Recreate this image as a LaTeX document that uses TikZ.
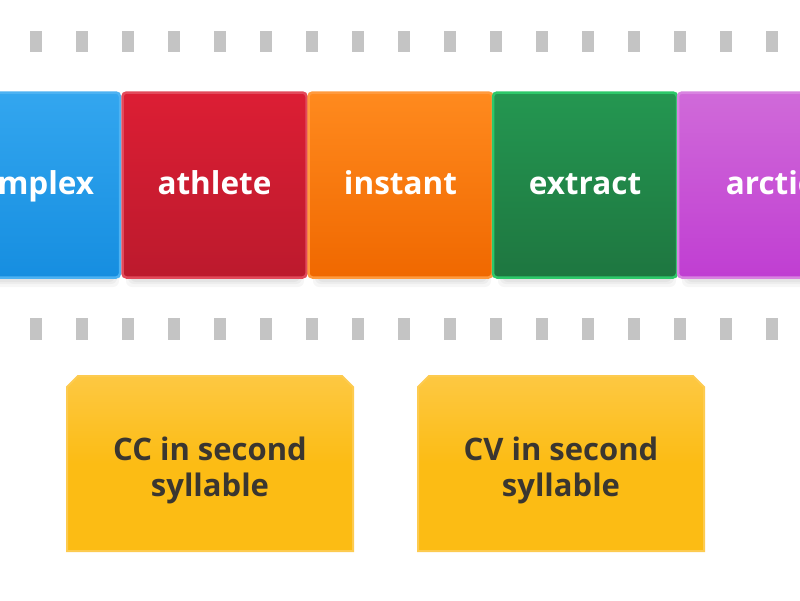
\documentclass[tikz,border=0pt]{standalone}
\usepackage{fontspec}
\setmainfont{Open Sans}
\definecolor{dashc}{HTML}{C4C4C4}
\definecolor{bluet}{HTML}{33A6EF}\definecolor{blueb}{HTML}{168EE0}\definecolor{bluee}{HTML}{4DB2F2}
\definecolor{redt}{HTML}{DC1E34}\definecolor{redb}{HTML}{BC1A2D}\definecolor{rede}{HTML}{E24A5B}
\definecolor{oranget}{HTML}{FF8A1E}\definecolor{orangeb}{HTML}{F06800}\definecolor{orangee}{HTML}{FF9A3E}
\definecolor{greent}{HTML}{249751}\definecolor{greenb}{HTML}{1E7640}\definecolor{greene}{HTML}{2DC86A}
\definecolor{purplet}{HTML}{D06AD9}\definecolor{purpleb}{HTML}{C03ED2}\definecolor{purplee}{HTML}{D884E0}
\definecolor{yelt}{HTML}{FDC842}\definecolor{yelb}{HTML}{FCBC14}\definecolor{yele}{HTML}{FDCB50}
\definecolor{txtd}{HTML}{3A3630}
\tikzset{
  card/.style={rectangle, rounded corners=4pt, minimum width=184pt, minimum height=185pt,
    line width=2.5pt, inner sep=0pt, text=white, text height=22pt, text depth=4pt,
    font=\fontsize{31.5}{36}\selectfont\bfseries},
  cshadow/.style={fill=black, opacity=0.035, rounded corners=6pt},
  yshape/.style={top color=yelt, bottom color=yelb, middle color=yelb, draw=yele, line width=2pt},
  cattext/.style={text=txtd, align=center, inner sep=0pt,
    font=\fontsize{31}{36}\selectfont\bfseries},
  slot/.style={fill=dashc}
}
\begin{document}
\begin{tikzpicture}[x=1pt,y=-1pt]
\useasboundingbox (0,0) rectangle (800,600);
\clip (0,0) rectangle (800,600);
\fill[white] (0,0) rectangle (800,600);
\foreach \i in {0,...,16} {
  \fill[slot] (30+46*\i,31) rectangle +(12,21);
  \fill[slot] (30+46*\i,318) rectangle +(12,22);
}
% soft shadows under the cards
\foreach \x in {-63,122,309,494,678} {
  \fill[cshadow] (\x+4,100) rectangle (\x+182,287);
  \fill[cshadow] (\x+6,100) rectangle (\x+180,284);
  \fill[cshadow] (\x+8,100) rectangle (\x+178,282);
}
\node[card, top color=bluet, bottom color=blueb, draw=bluee] (c1) at (28,185) {complex};
\node[card, top color=redt, bottom color=redb, draw=rede] (c2) at (214.5,185) {athlete};
\node[card, top color=oranget, bottom color=orangeb, draw=orangee] (c3) at (400.5,185) {instant};
\node[card, top color=greent, bottom color=greenb, draw=greene] (c4) at (585,185) {extract};
\node[card, top color=purplet, bottom color=purpleb, draw=purplee] (c5) at (770,185) {arctic};
% category boxes
\path[yshape] (67,551) -- (67,387) -- (78,376) -- (342,376) -- (353,387) -- (353,551) -- cycle;
\path[yshape] (418,551) -- (418,387) -- (429,376) -- (693,376) -- (704,387) -- (704,551) -- cycle;
\node[cattext] (g1) at (210,470) {CC in second\\syllable};
\node[cattext] (g2) at (561,470) {CV in second\\syllable};
\end{tikzpicture}
\end{document}
